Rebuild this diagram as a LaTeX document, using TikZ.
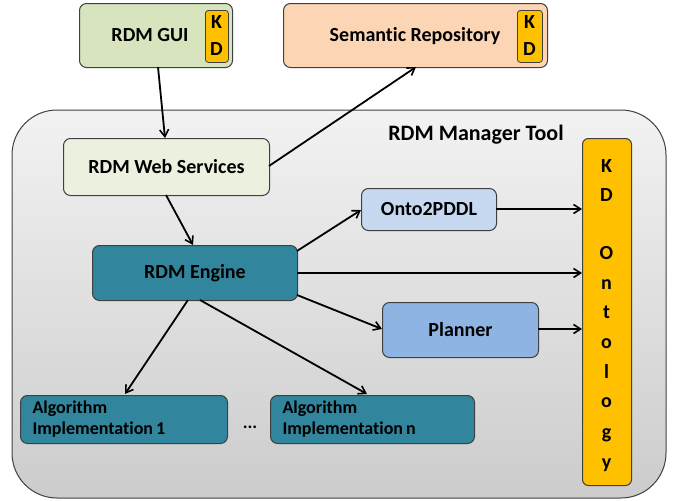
\documentclass[tikz,border=0pt]{standalone}
\usepackage{fontspec}
\setmainfont[Ligatures=NoCommon]{Carlito}
\usetikzlibrary{arrows.meta,positioning,calc}
\definecolor{guigreen}{HTML}{D7E4BD}
\definecolor{wsgreen}{HTML}{EBF1DE}
\definecolor{peach}{HTML}{FCD5B5}
\definecolor{teal}{HTML}{31859C}
\definecolor{lblue}{HTML}{C6D9F1}
\definecolor{mblue}{HTML}{8EB4E3}
\definecolor{kdyellow}{HTML}{FFC000}
\definecolor{edge}{HTML}{404040}
\tikzset{
  lbl/.style={font=\bfseries\fontsize{20}{22}\selectfont},
  box/.style={draw=edge, line width=1pt, rounded corners=7pt, lbl, inner sep=0pt},
  kd/.style={draw=edge, line width=0.8pt, fill=kdyellow, rounded corners=3pt, inner sep=0pt},
  conn/.style={line width=1.8pt, -{Straight Barb[length=7pt,width=9pt,line width=1.6pt]}},
}
\begin{document}
\begin{tikzpicture}[x=1pt,y=-1pt]
\useasboundingbox (0,0) rectangle (673,501);
% container
\shade[top color=white!95!black, bottom color=white!80!black, draw=edge, line width=1pt, rounded corners=45pt] (12,110) rectangle (666,498);
\node[font=\bfseries\fontsize{22}{24}\selectfont] (title) at (476,135) {RDM Manager Tool};

% top boxes
\node[box, fill=guigreen, minimum width=153pt, minimum height=64pt, anchor=north west] (gui) at (79,3) {};
\node[lbl] (guit) at (150,35) {RDM GUI};
\node[kd, minimum width=23pt, minimum height=52pt, anchor=north west] (kd1) at (205,10) {};
\node[lbl] (kd1k) at (216.5,22) {K};
\node[lbl] (kd1d) at (216.5,49) {D};

\node[box, fill=peach, minimum width=264pt, minimum height=64pt, anchor=north west] (sr) at (283,3) {};
\node[lbl] (srt) at (415,36) {Semantic Repository};
\node[kd, minimum width=25pt, minimum height=52pt, anchor=north west] (kd2) at (517,10) {};
\node[lbl] (kd2k) at (529.5,22) {K};
\node[lbl] (kd2d) at (529.5,49) {D};

% inner boxes
\node[box, fill=wsgreen, minimum width=206pt, minimum height=57pt, anchor=north west] (ws) at (63,138) {RDM Web Services};
\node[box, fill=teal, minimum width=205pt, minimum height=55pt, anchor=north west] (eng) at (92,245) {RDM Engine};
\node[box, fill=lblue, minimum width=135pt, minimum height=42pt, anchor=north west] (onto) at (361,188) {Onto2PDDL};
\node[box, fill=mblue, minimum width=156pt, minimum height=55pt, anchor=north west] (plan) at (382,302) {Planner};

\node[box, fill=teal, minimum width=207pt, minimum height=48pt, anchor=north west] (alg1) at (20,395) {};
\node[font=\bfseries\fontsize{18}{21}\selectfont, align=left, anchor=west] (alg1t) at (29,419) {Algorithm\\Implementation\,1};
\node[box, fill=teal, minimum width=204pt, minimum height=48pt, anchor=north west] (algn) at (270,395) {};
\node[font=\bfseries\fontsize{18}{21}\selectfont, align=left, anchor=west] (algnt) at (279,419) {Algorithm\\Implementation\,n};
\node[font=\bfseries\fontsize{18}{21}\selectfont] (dots) at (250,427) {...};

% KD ontology
\node[kd, line width=1pt, rounded corners=6pt, minimum width=49pt, minimum height=347pt, anchor=north west] (kdo) at (582,138) {};
\foreach \c/\yy [count=\i] in {K/168,D/197,O/255,n/285,t/314,o/344,l/374,o/403,g/434,y/464}{
  \node[lbl, inner sep=0pt] (kdl\i) at (606.5,\yy) {\strut\c};
}

% connectors
\coordinate (guiout) at (158,67);
\coordinate (wsin) at (165,138);
\draw[conn] (guiout) -- (wsin);
\coordinate (wsr) at (269,166);
\coordinate (srb) at (416,67);
\draw[conn] (wsr) -- (srb);
\coordinate (wsb) at (166,195);
\coordinate (engt) at (193,245);
\draw[conn] (wsb) -- (engt);
\coordinate (eng1) at (297,251);
\coordinate (onl) at (361,210);
\draw[conn] (eng1) -- (onl);
\coordinate (eng2) at (297,273);
\coordinate (kdm) at (582,273);
\draw[conn] (eng2) -- (kdm);
\coordinate (eng3) at (297,295);
\coordinate (pll) at (382,329);
\draw[conn] (eng3) -- (pll);
\coordinate (onr) at (496,209);
\coordinate (kdt) at (582,209);
\draw[conn] (onr) -- (kdt);
\coordinate (plr) at (538,329);
\coordinate (kdb) at (582,329);
\draw[conn] (plr) -- (kdb);
\coordinate (engb1) at (188,300);
\coordinate (a1t) at (125,394);
\draw[conn] (engb1) -- (a1t);
\coordinate (engb2) at (200,300);
\coordinate (ant) at (367,394);
\draw[conn] (engb2) -- (ant);
\end{tikzpicture}
\end{document}
